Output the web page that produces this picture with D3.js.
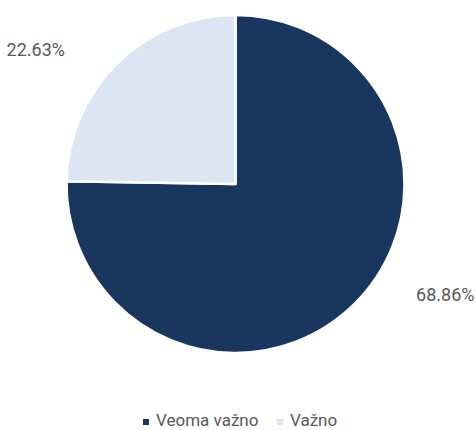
<!DOCTYPE html>
<html>
<head>
<meta charset="utf-8">
<script src="https://cdn.jsdelivr.net/npm/d3@7"></script>
<style>
  html, body { margin: 0; padding: 0; background: #fff; }
  text { font-family: "Roboto", "Liberation Sans", sans-serif; }
</style>
</head>
<body>
<div id="chart"></div>
<script>
// data
const categories = ["Veoma važno", "Važno"];
const values = [68.86, 22.63];
const labels = ["68.86%", "22.63%"];
const colors = ["#19375e", "#dce6f2"];

const width = 475, height = 430;
const cx = 235.5, cy = 184, radius = 169;

const svg = d3.select("#chart")
  .append("svg")
  .attr("width", width)
  .attr("height", height);

const data = categories.map((c, i) => ({ name: c, value: values[i], label: labels[i], color: colors[i] }));

const pie = d3.pie().sort(null).value(d => d.value);
const arc = d3.arc().innerRadius(0).outerRadius(radius);

const g = svg.append("g").attr("transform", `translate(${cx},${cy})`);

g.selectAll("path")
  .data(pie(data))
  .enter().append("path")
  .attr("d", arc)
  .attr("fill", d => d.data.color)
  .attr("stroke", "#fff")
  .attr("stroke-width", 2.5)
  .attr("stroke-linejoin", "round");

// labels outside the slices, on a flattened ring
g.selectAll("text.lbl")
  .data(pie(data))
  .enter().append("text")
  .attr("class", "lbl")
  .attr("x", d => Math.sin((d.startAngle + d.endAngle) / 2) * 292 + 5)
  .attr("y", d => -Math.cos((d.startAngle + d.endAngle) / 2) * 172 - 12)
  .attr("text-anchor", "middle")
  .attr("dy", "0.35em")
  .attr("fill", "#595959")
  .style("font-size", "18px")
  .text(d => d.data.label);

// legend
const legend = svg.append("g").attr("transform", "translate(0,421)");
const itemX = [143, 277];
const item = legend.selectAll("g")
  .data(data)
  .enter().append("g")
  .attr("transform", (d, i) => `translate(${itemX[i]},0)`);

item.append("rect")
  .attr("x", 0).attr("y", -2)
  .attr("width", 6).attr("height", 6)
  .attr("fill", d => d.color);

item.append("text")
  .attr("x", 13)
  .attr("y", 5)
  .attr("fill", "#595959")
  .style("font-size", "17px")
  .text(d => d.name);
</script>
</body>
</html>
